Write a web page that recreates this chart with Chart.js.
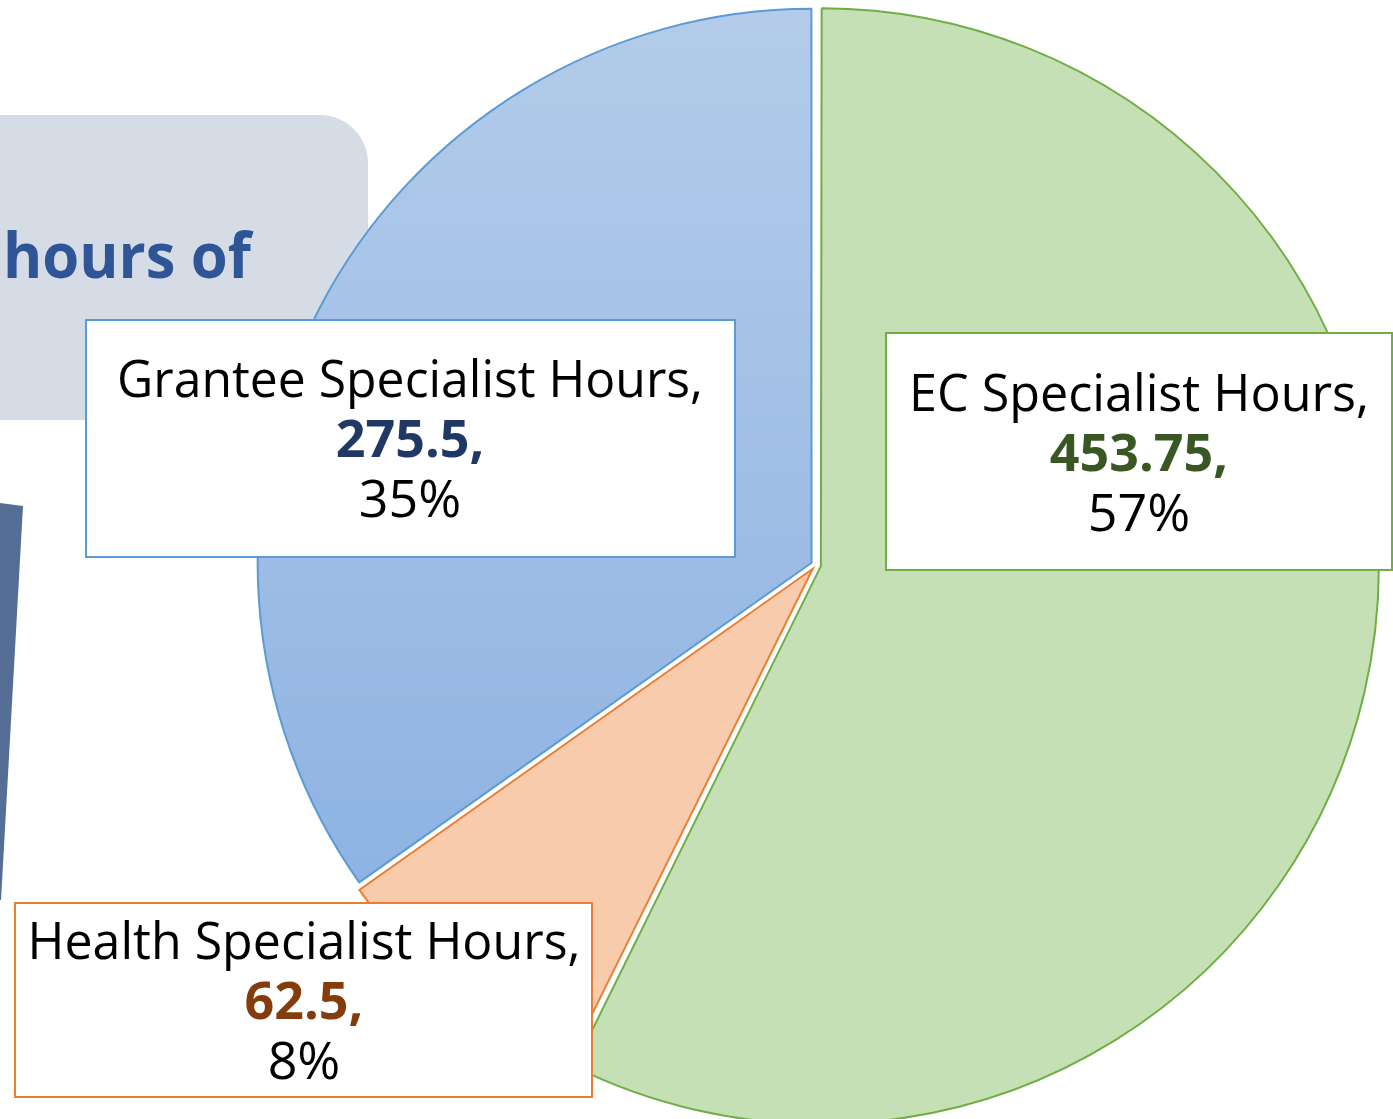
<!DOCTYPE html>
<html>
<head>
<meta charset="utf-8">
<script src="https://cdn.jsdelivr.net/npm/chart.js@4/dist/chart.umd.min.js"></script>
<style>
  html, body { margin: 0; padding: 0; width: 1393px; height: 1119px; overflow: hidden; background: #ffffff; }
  canvas { position: absolute; left: 0; top: 0; }
</style>
</head>
<body>
<canvas id="c" width="1393" height="1119"></canvas>
<script>
// ---- data ----
const categories = ['EC Specialist Hours', 'Health Specialist Hours', 'Grantee Specialist Hours'];
const hours = [453.75, 62.5, 275.5];
const backgroundTitle = 'hours of';

// ---- styles ----
const fillColors = ['#C5E0B4', '#F8CBAD', '#A3C0E6'];
const borderColors = ['#70AD47', '#ED7D31', '#5B9BD5'];
const valueColors = ['#385723', '#843C0C', '#203864'];
const FONT = "'Open Sans', 'Noto Sans', sans-serif";

// callout boxes layout: left, top, right, bottom, text centre x, first baseline, max text width
const calloutLayout = [
  { l: 886, t: 333, r: 1392, b: 570, cx: 1139, y: 411, w: 460 },
  { l: 15,  t: 903, r: 592,  b: 1097, cx: 304, y: 959, w: 553 },
  { l: 86,  t: 320, r: 735,  b: 557, cx: 410, y: 397, w: 586 }
];

const backdrop = {
  id: 'backdrop',
  beforeDraw(chart) {
    const ctx = chart.ctx;
    ctx.save();
    // grey rounded panel of the slide behind the chart
    ctx.fillStyle = '#D6DCE5';
    ctx.beginPath();
    ctx.roundRect(-60, 115, 428, 305, 48);
    ctx.fill();
    // slide title fragment
    ctx.fillStyle = '#2F5597';
    ctx.font = 'bold 62px ' + FONT;
    ctx.textBaseline = 'alphabetic';
    ctx.textAlign = 'left';
    ctx.fillText(backgroundTitle, 3, 278, 248);
    // dark slanted bar at the left edge
    ctx.fillStyle = '#556E95';
    ctx.beginPath();
    ctx.moveTo(0, 503);
    ctx.lineTo(23, 506);
    ctx.lineTo(1, 900);
    ctx.lineTo(0, 900);
    ctx.closePath();
    ctx.fill();
    ctx.restore();
  }
};

const callouts = {
  id: 'callouts',
  afterDraw(chart) {
    const ctx = chart.ctx;
    const data = chart.data.datasets[0].data;
    const total = data.reduce((a, b) => a + b, 0);
    ctx.save();
    data.forEach((v, i) => {
      const L = calloutLayout[i];
      ctx.fillStyle = '#ffffff';
      ctx.fillRect(L.l, L.t, L.r - L.l, L.b - L.t);
      ctx.strokeStyle = borderColors[i];
      ctx.lineWidth = 2;
      ctx.strokeRect(L.l, L.t, L.r - L.l, L.b - L.t);
      ctx.textAlign = 'center';
      ctx.textBaseline = 'alphabetic';
      ctx.fillStyle = '#000000';
      ctx.font = '52px ' + FONT;
      ctx.fillText(chart.data.labels[i] + ',', L.cx, L.y, L.w);
      ctx.fillStyle = valueColors[i];
      ctx.font = 'bold 52px ' + FONT;
      ctx.fillText(String(v) + ',', L.cx, L.y + 60);
      ctx.fillStyle = '#000000';
      ctx.font = '52px ' + FONT;
      ctx.fillText(Math.round(v / total * 100) + '%', L.cx, L.y + 120);
    });
    ctx.restore();
  }
};

new Chart(document.getElementById('c'), {
  type: 'pie',
  data: {
    labels: categories,
    datasets: [{
      data: hours,
      backgroundColor: (c) => {
        if (c.dataIndex === 2) {
          const g = c.chart.ctx.createLinearGradient(0, 5, 0, 890);
          g.addColorStop(0, '#B4CCEA');
          g.addColorStop(1, '#8EB3E2');
          return g;
        }
        return fillColors[c.dataIndex];
      },
      borderColor: borderColors,
      borderWidth: 2,
      borderJoinStyle: 'miter',
      offset: 20,
      radius: 553,
      clip: false
    }]
  },
  options: {
    responsive: false,
    animation: false,
    radius: 553,
    layout: { padding: { left: 239, right: 0, top: 11, bottom: 0 } },
    plugins: { legend: { display: false }, tooltip: { enabled: false } },
    events: []
  },
  plugins: [backdrop, callouts]
});
</script>
</body>
</html>
